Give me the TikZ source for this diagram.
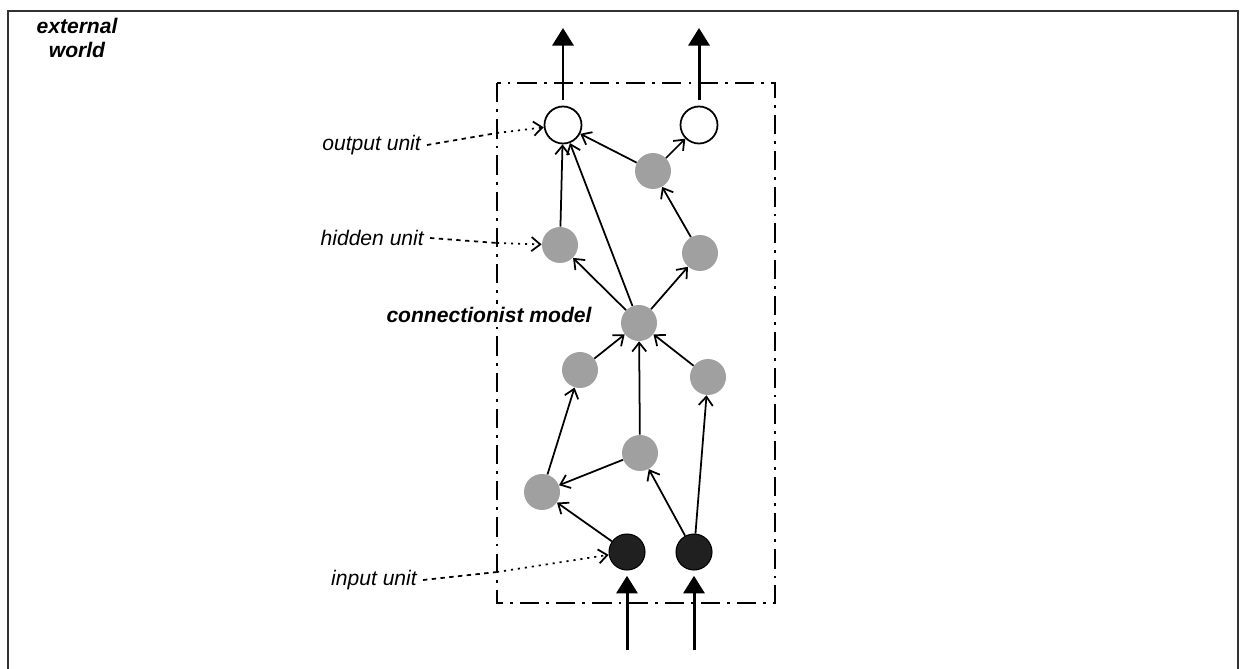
\documentclass[tikz,border=0pt]{standalone}
\usepackage{fontspec}
\setmainfont{Liberation Sans}
\usepackage{tikz}
\usetikzlibrary{arrows.meta}

\definecolor{unitgray}{RGB}{160,160,160}
\definecolor{unitblack}{RGB}{32,32,32}
\definecolor{framegray}{RGB}{50,50,50}

\tikzset{
  outunit/.style={circle, draw=black, line width=1pt, fill=white, minimum size=0.74cm, inner sep=0pt},
  hidunit/.style={circle, fill=unitgray, minimum size=0.72cm, inner sep=0pt},
  inunit/.style={circle, draw=black, line width=0.6pt, fill=unitblack, minimum size=0.72cm, inner sep=0pt},
  link/.style={-{Straight Barb[length=5pt,width=8pt]}, line width=1pt},
  bigarrow/.style={-{Triangle[length=10pt,width=12pt]}, line width=1.7pt},
  leader/.style={line width=1pt, dash pattern=on 2.5pt off 2.5pt},
  leaderin/.style={line width=1pt, dash pattern=on 1.2pt off 2.8pt, -{Straight Barb[length=5pt,width=8pt]}},
  modelbox/.style={line width=1.5pt, dash pattern=on 11pt off 4pt on 1.6pt off 4pt},
  unitlabel/.style={font=\fontsize{12}{14}\selectfont\itshape},
  boldlabel/.style={font=\fontsize{12}{14}\selectfont\bfseries\itshape, align=center}
}

\begin{document}
\begin{tikzpicture}[x=0.02cm, y=-0.02cm]
  \useasboundingbox (0,0) rectangle (1241,669);
  % outer frame
  \draw[framegray, line width=1.2pt] (8,669) -- (8,11) -- (1238,11) -- (1238,669);
  \node[boldlabel] (world) at (77,38) {external\\world};

  % model box
  \draw[modelbox] (497,83) rectangle (775,603);
  \node[boldlabel, fill=white, inner sep=2pt] (model) at (489,315) {connectionist model};

  % units
  \node[outunit] (o1) at (563,125) {};
  \node[outunit] (o2) at (699,125) {};
  \node[hidunit] (ha) at (653,171) {};
  \node[hidunit] (h1) at (560,245) {};
  \node[hidunit] (h2) at (700,253) {};
  \node[hidunit] (c) at (639,323) {};
  \node[hidunit] (l1) at (580,370) {};
  \node[hidunit] (r1) at (708,377) {};
  \node[hidunit] (m) at (640,453) {};
  \node[hidunit] (b) at (542,492) {};
  \node[inunit] (i1) at (627,552) {};
  \node[inunit] (i2) at (694,552) {};

  % connections
  \draw[link] (h1) -- (o1);
  \draw[link] (c) -- (o1);
  \draw[link] (ha) -- (o1);
  \draw[link] (ha) -- (o2);
  \draw[link] (h2) -- (ha);
  \draw[link] (c) -- (h1);
  \draw[link] (c) -- (h2);
  \draw[link] (l1) -- (c);
  \draw[link] (m) -- (c);
  \draw[link] (r1) -- (c);
  \draw[link] (b) -- (l1);
  \draw[link] (m) -- (b);
  \draw[link] (i1) -- (b);
  \draw[link] (i2) -- (m);
  \draw[link] (i2) -- (r1);

  % external world in and out
  \coordinate (top1) at (563,28);
  \coordinate (top2) at (699,28);
  \coordinate (bot1) at (627,650);
  \coordinate (bot2) at (694,650);
  \draw[bigarrow, shorten <=3pt] (o1) -- (top1);
  \draw[bigarrow, shorten <=3pt] (o2) -- (top2);
  \draw[bigarrow, shorten >=3pt] (bot1) -- (i1);
  \draw[bigarrow, shorten >=3pt] (bot2) -- (i2);

  % labels with leaders
  \node[unitlabel, anchor=east] (outlbl) at (427,145) {output unit};
  \node[unitlabel, anchor=east] (hidlbl) at (430,238) {hidden unit};
  \node[unitlabel, anchor=east] (inlbl) at (423,580) {input unit};
  \coordinate (outcross) at (497,133);
  \coordinate (hidcross) at (497,243);
  \coordinate (incross) at (497,572);
  \draw[leader] (outlbl.east) -- (outcross);
  \draw[leaderin] (outcross) -- (o1);
  \draw[leader] (hidlbl.east) -- (hidcross);
  \draw[leaderin] (hidcross) -- (h1);
  \draw[leader] (inlbl.east) -- (incross);
  \draw[leaderin] (incross) -- (i1);
\end{tikzpicture}
\end{document}
